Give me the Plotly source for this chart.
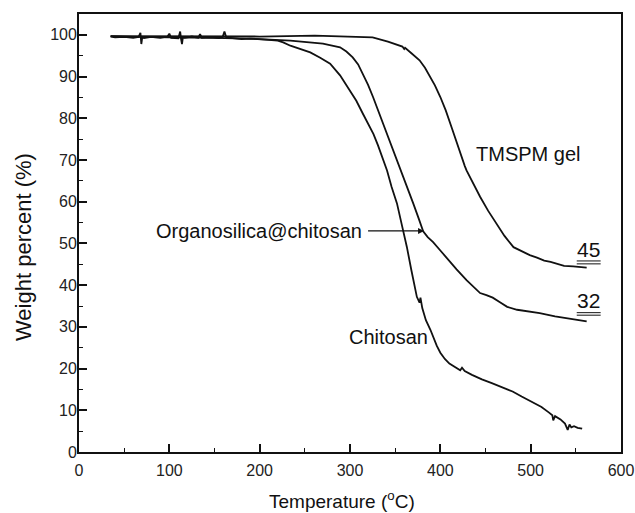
import plotly.graph_objects as go

# ---------------- data ----------------
chitosan_T = [35, 40, 50, 60, 66, 68, 69, 70, 72, 80, 90, 98, 100, 102, 110, 112, 113, 114, 115, 117,
              125, 132, 134, 136, 145, 155, 159, 161, 163, 170, 180, 190, 200, 210, 220, 226, 234, 245,
              256, 267, 278, 289, 300, 307, 314, 320, 326, 331, 336.5, 341, 346, 352, 357, 363, 368,
              374, 377, 378, 380, 384, 389, 392, 396, 400, 405, 410, 418, 422, 424, 427,
              435, 446, 457, 468, 480, 490, 500, 512, 520, 524, 525, 527, 533, 538, 541, 543, 545, 548,
              552, 557]
chitosan_W = [99.6, 99.4, 99.5, 99.3, 99.5, 100.5, 97.8, 99.4, 99.2, 99.5, 99.3, 99.6, 100.3, 99.3, 99.2,
              100.8, 99.0, 97.8, 99.4, 99.3, 99.6, 99.3, 100.2, 99.3, 99.4, 99.2, 99.5, 100.8, 99.4, 99.2,
              99.0, 99.1, 99.0, 98.8, 98.6, 98.2, 97.4, 96.6, 95.8, 94.5, 93.1, 90.3, 86.7, 84.2, 81.2,
              78.8, 76.2, 73.5, 69.9, 67.5, 63.6, 59.6, 54.8, 49.1, 43.5, 37.2, 35.8, 37.0, 34.5, 31.6,
              29.3, 27.5, 25.5, 23.8, 22.3, 21.2, 20.2, 19.6, 20.2, 19.4,
              18.5, 17.4, 16.5, 15.6, 14.5, 13.3, 12.2, 10.8, 9.5, 8.8, 7.6, 8.6, 7.8, 6.8, 5.3, 6.6, 5.9,
              6.2, 5.8, 5.6]

organo_T = [35, 60, 100, 150, 200, 234, 270, 289, 296, 303, 309, 314, 320, 325.5, 331, 336.5, 342, 347.6,
            355, 363, 370, 376, 381, 386, 392, 400, 407, 418, 429, 437, 444, 451, 458, 466, 474, 485, 497,
            510, 527, 545, 562]
organo_W = [99.7, 99.5, 99.4, 99.3, 99.0, 98.6, 97.9, 97.0, 96.0, 94.6, 92.9, 90.7, 88.0, 85.1, 82.0,
            78.7, 75.5, 72.3, 68.3, 63.5, 59.6, 56.0, 52.9, 51.5, 50.3, 48.3, 46.5, 43.8, 41.2, 39.5,
            38.1, 37.6, 37.0, 35.9, 34.8, 34.1, 33.7, 33.3, 32.5, 31.9, 31.3]

tmspm_T = [35, 100, 200, 261, 290, 325, 342, 352, 358, 360, 361, 368, 377, 383, 389, 394, 400, 406, 413,
           419, 424, 427, 429, 436, 444, 453, 462, 471, 481, 490, 499, 507, 515, 522, 530, 537, 547, 555,
           562]
tmspm_W = [99.7, 99.6, 99.6, 99.8, 99.6, 99.4, 98.4, 97.7, 97.2, 96.6, 96.9, 95.6, 93.9, 92.1, 89.9, 87.9,
           85.1, 81.9, 77.5, 73.5, 70.2, 68.6, 67.5, 64.4, 61.2, 57.8, 54.8, 51.8, 49.1, 48.1, 47.2, 46.6,
           45.9, 45.6, 45.0, 44.6, 44.5, 44.3, 44.2]

x_ticks = [0, 100, 200, 300, 400, 500, 600]
y_ticks = [0, 10, 20, 30, 40, 50, 60, 70, 80, 90, 100]

FONT = "Liberation Sans, Arial, sans-serif"
LINE = dict(color="#111111", width=1.8)

fig = go.Figure()
for name, xs, ys in [("Chitosan", chitosan_T, chitosan_W),
                     ("Organosilica@chitosan", organo_T, organo_W),
                     ("TMSPM gel", tmspm_T, tmspm_W)]:
    fig.add_trace(go.Scatter(x=xs, y=ys, mode="lines", name=name, line=LINE, showlegend=False))

ann_font = dict(family=FONT, size=20, color="#111111")
fig.add_annotation(x=437, y=71.5, text="TMSPM gel", showarrow=False, xanchor="left",
                   yanchor="middle", font=ann_font)
fig.add_annotation(x=297, y=27.5, text="Chitosan", showarrow=False, xanchor="left",
                   yanchor="middle", font=ann_font)
fig.add_annotation(x=315, y=53, text="Organosilica@chitosan", showarrow=False, xanchor="right",
                   yanchor="middle", font=ann_font)
fig.add_annotation(x=382, y=53, text=" ", showarrow=True, ax=-58, ay=0, arrowhead=2,
                   arrowsize=1, arrowwidth=1.2, arrowcolor="#111111", font=dict(size=2))
num_font = dict(family=FONT, size=21, color="#111111")
fig.add_annotation(x=564.5, y=48.6, text="45", showarrow=False, font=num_font)
fig.add_annotation(x=564.5, y=36.3, text="32", showarrow=False, font=num_font)
for yy in [45.8, 45.1, 33.4, 32.8]:
    fig.add_shape(type="line", x0=551, x1=577.5, y0=yy, y1=yy,
                  line=dict(color="#111111", width=1))

# axis titles (placed as paper annotations to match the original offsets)
fig.add_annotation(xref="paper", yref="paper", x=0.485, y=0, yshift=-48, xanchor="center",
                   yanchor="middle", text="Temperature (<sup>o</sup>C)", showarrow=False,
                   font=dict(family=FONT, size=19, color="#111111"))
fig.add_annotation(xref="paper", yref="paper", x=0, xshift=-56, y=0.468, xanchor="center",
                   yanchor="middle", textangle=-90, text="Weight percent (%)", showarrow=False,
                   font=dict(family=FONT, size=22, color="#111111"))

axis_common = dict(showgrid=False, zeroline=False, showline=True, linecolor="#111111", linewidth=1.8,
                   mirror=True, ticks="inside", ticklen=8, tickwidth=1.5, tickcolor="#111111",
                   automargin=False, ticklabeloverflow="allow",
                   tickfont=dict(family=FONT, size=16, color="#222222"))
fig.update_xaxes(range=[0, 600], tickvals=x_ticks, ticklabelstandoff=3,
                 minor=dict(dtick=50, ticks="inside", ticklen=4, tickwidth=1.2, tickcolor="#111111"),
                 **axis_common)
fig.update_yaxes(range=[0, 105], tickvals=y_ticks, ticklabelstandoff=-3,
                 minor=dict(dtick=5, ticks="inside", ticklen=4, tickwidth=1.2, tickcolor="#111111"),
                 **axis_common)

fig.update_layout(width=635, height=513, margin=dict(l=79, r=14, t=14, b=61),
                  paper_bgcolor="white", plot_bgcolor="white")

# remove the default page margin so the figure fills the window exactly
fig.write_html("out.html", config={"displayModeBar": False},
               post_script="document.body.style.margin='0';document.body.style.overflow='hidden';")
